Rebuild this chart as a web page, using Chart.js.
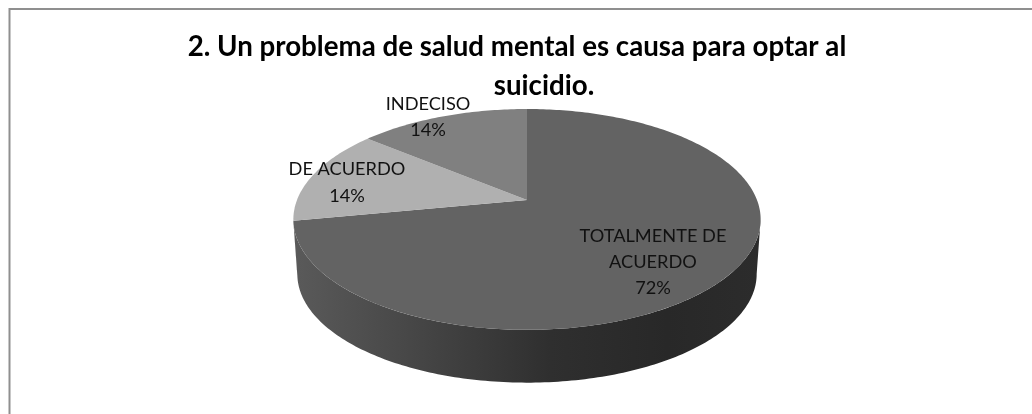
<!DOCTYPE html>
<html lang="es">
<head>
<meta charset="utf-8">
<title>Salud mental</title>
<script src="https://cdn.jsdelivr.net/npm/chart.js@4"></script>
<style>
    html, body { margin: 0; padding: 0; background: #fff; }
    #wrap { position: relative; width: 1032px; height: 414px; }
</style>
</head>
<body>
<div id="wrap"><canvas id="pieChart" width="1032" height="414"></canvas></div>
<script>
const titleLines = ['2. Un problema de salud mental es causa para optar al', 'suicidio.'];
const categories = ['TOTALMENTE DE ACUERDO', 'DE ACUERDO', 'INDECISO'];
const percents = [72, 14, 14];
const sliceColors = ['#636363', '#b0b0b0', '#808080'];

// Where each label block is centred, and how its name breaks into lines
const labelLines = [['TOTALMENTE DE', 'ACUERDO', '72%'], ['DE ACUERDO', '14%'], ['INDECISO', '14%']];
const labelCenters = [[653, 262], [347, 182.5], [428, 117]];

// Perspective of the disc: k tilts it, the others stretch the unit circle to pixels
const tilt = { k: -0.176, sx: 230 / 190, sy: 107 / 190 };
const wall = { drop: 55, shrink: 0.983 };

// Point on the rim of a slice. Angle as Chart.js gives it (-PI/2 is the top)
function project(arc, angle, radius, scale, dy) {
    const u = Math.cos(angle) * radius;
    const v = Math.sin(angle) * radius;
    const w = 1 + tilt.k * v;
    return [
        arc.x + scale * tilt.sx * arc.outerRadius * u / w,
        arc.y + dy + scale * tilt.sy * arc.outerRadius * v / w
    ];
}

function rimPath(ctx, arc, from, to, scale, dy, first) {
    const steps = Math.max(2, Math.ceil(Math.abs(to - from) * 60));
    for (let i = 0; i <= steps; i++) {
        const p = project(arc, from + (to - from) * i / steps, 1, scale, dy);
        if (i === 0 && first) ctx.moveTo(p[0], p[1]);
        else ctx.lineTo(p[0], p[1]);
    }
}

// Side of the disc, only for the part of the rim that faces the viewer
function drawWall(ctx, arcs) {
    const edge = Math.asin(-tilt.k);
    const frontStart = edge;
    const frontEnd = Math.PI - edge;
    arcs.forEach(arc => {
        const from = Math.max(arc.startAngle, frontStart);
        const to = Math.min(arc.endAngle, frontEnd);
        if (to <= from) return;
        const grad = ctx.createLinearGradient(arc.x - 234, 0, arc.x + 234, 0);
        grad.addColorStop(0, '#5a5a5a');
        grad.addColorStop(0.25, '#474747');
        grad.addColorStop(0.55, '#2f2f2f');
        grad.addColorStop(0.8, '#282828');
        grad.addColorStop(1, '#2c2c2c');
        ctx.beginPath();
        rimPath(ctx, arc, from, to, 1, 0, true);
        rimPath(ctx, arc, to, from, wall.shrink, wall.drop, false);
        ctx.closePath();
        ctx.fillStyle = grad;
        ctx.fill();
    });
}

const tiltedPie = {
    id: 'tiltedPie',
    beforeDatasetsDraw(chart) {
        const ctx = chart.ctx;
        const arcs = chart.getDatasetMeta(0).data;
        ctx.save();
        drawWall(ctx, arcs);
        arcs.forEach((arc, i) => {
            ctx.beginPath();
            const c = project(arc, 0, 0, 1, 0);
            ctx.moveTo(c[0], c[1]);
            rimPath(ctx, arc, arc.startAngle, arc.endAngle, 1, 0, false);
            ctx.closePath();
            ctx.fillStyle = sliceColors[i];
            ctx.fill();
        });
        ctx.restore();
        return false; // the flat arcs are not wanted
    },
    afterDraw(chart) {
        const ctx = chart.ctx;
        ctx.save();
        // marco
        ctx.strokeStyle = '#8f8f8f';
        ctx.lineWidth = 2;
        ctx.beginPath();
        ctx.moveTo(9.5, 414);
        ctx.lineTo(9.5, 9);
        ctx.lineTo(1032, 9);
        ctx.stroke();

        ctx.textAlign = 'center';
        ctx.textBaseline = 'middle';
        ctx.fillStyle = '#000';
        ctx.font = 'bold 27.7px Lato';
        ctx.fillText(titleLines[0], 517, 47.5);
        ctx.fillText(titleLines[1], 544, 86.5);

        ctx.fillStyle = '#111';
        ctx.font = '18.2px Lato';
        labelLines.forEach((lines, i) => {
            lines.forEach((line, j) => {
                const y = labelCenters[i][1] + (j - (lines.length - 1) / 2) * 26.3;
                ctx.fillText(line, labelCenters[i][0], y);
            });
        });
        ctx.restore();
    }
};

new Chart(document.getElementById('pieChart'), {
    type: 'pie',
    data: {
        labels: categories,
        datasets: [{
            data: percents,
            backgroundColor: sliceColors,
            borderWidth: 0
        }]
    },
    options: {
        responsive: false,
        animation: false,
        layout: { padding: { left: 22, right: 0, top: 10, bottom: 24 } },
        plugins: {
            legend: { display: false },
            tooltip: { enabled: false }
        }
    },
    plugins: [tiltedPie]
});
</script>
</body>
</html>
